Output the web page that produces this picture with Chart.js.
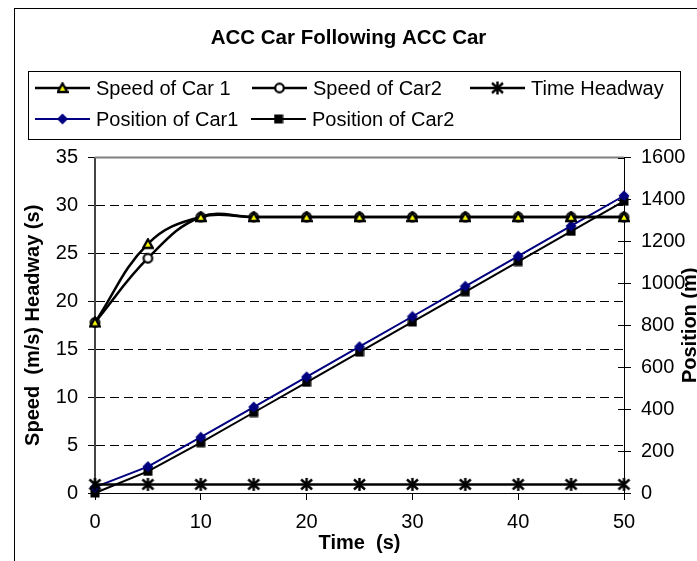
<!DOCTYPE html>
<html>
<head>
<meta charset="utf-8">
<title>ACC Car Following ACC Car</title>
<script src="https://cdn.jsdelivr.net/npm/chart.js@4.4.1/dist/chart.umd.min.js"></script>
<style>
  html, body { margin: 0; padding: 0; background: #fff; overflow: hidden; }
  #wrap { position: relative; width: 697px; height: 561px; }
</style>
</head>
<body>
<div id="wrap"><canvas id="chart" width="697" height="561"></canvas></div>
<script>
/* data */
const timeSec = [0, 5, 10, 15, 20, 25, 30, 35, 40, 45, 50];
const speedCar1 = [17.8, 26.0, 28.8, 28.8, 28.8, 28.8, 28.8, 28.8, 28.8, 28.8, 28.8];
const speedCar2 = [17.8, 24.5, 28.8, 28.8, 28.8, 28.8, 28.8, 28.8, 28.8, 28.8, 28.8];
const timeHeadway = [0.9, 0.9, 0.9, 0.9, 0.9, 0.9, 0.9, 0.9, 0.9, 0.9, 0.9];
const positionCar1 = [28, 126, 266, 410, 554, 698, 842, 986, 1130, 1274, 1418];
const positionCar2 = [0, 103, 240, 384, 528, 672, 816, 960, 1104, 1248, 1392];

const xTicks = [0, 10, 20, 30, 40, 50];
const leftTicks = [0, 5, 10, 15, 20, 25, 30, 35];
const rightTicks = [0, 200, 400, 600, 800, 1000, 1200, 1400, 1600];

const FONT = '"Liberation Sans", Arial, sans-serif';
Chart.defaults.font.family = FONT;
Chart.defaults.font.size = 20;
Chart.defaults.color = '#000';

function pairs(ys) {
  return timeSec.map((t, i) => ({ x: t, y: ys[i] }));
}

// small canvases used as point markers (and again in the legend)
function marker(w, h, draw) {
  const c = document.createElement('canvas');
  c.width = w; c.height = h;
  draw(c.getContext('2d'));
  return c;
}
const triMark = marker(12, 12, g => {
  g.beginPath();
  g.moveTo(6, 1.5); g.lineTo(10.8, 10); g.lineTo(1.2, 10); g.closePath();
  g.fillStyle = '#ffff00'; g.fill();
  g.lineWidth = 2.4; g.strokeStyle = '#000'; g.stroke();
});
const circMark = marker(13, 13, g => {
  g.beginPath(); g.arc(6.5, 6.5, 4.3, 0, Math.PI * 2);
  g.fillStyle = '#fff'; g.fill();
  g.lineWidth = 2.2; g.strokeStyle = '#000'; g.stroke();
});
const starMark = marker(15, 15, g => {
  g.strokeStyle = '#000'; g.lineWidth = 2.4;
  g.beginPath();
  g.moveTo(2, 2.5); g.lineTo(13, 12.5);
  g.moveTo(13, 2.5); g.lineTo(2, 12.5);
  g.moveTo(7.5, 1); g.lineTo(7.5, 14);
  g.stroke();
});
const diamMark = marker(12, 12, g => {
  g.beginPath();
  g.moveTo(6, 0.5); g.lineTo(11.5, 6); g.lineTo(6, 11.5); g.lineTo(0.5, 6); g.closePath();
  g.fillStyle = '#000080'; g.fill();
});
const sqMark = marker(10, 10, g => {
  g.fillStyle = '#000'; g.fillRect(0.5, 0.5, 9, 9);
});

// legend rows: [x, y] of each item's line start
const legendSlots = [[35, 88], [252, 88], [470, 88], [35, 119], [251, 119]];

const frameAndLegend = {
  id: 'frameAndLegend',
  beforeDatasetsDraw(chart) {
    const { ctx, chartArea: a } = chart;
    ctx.save();
    ctx.strokeStyle = '#808080';
    ctx.lineWidth = 2;
    ctx.beginPath();
    ctx.moveTo(a.left, a.top); ctx.lineTo(a.right, a.top);
    ctx.stroke();
    ctx.restore();
  },
  afterDraw(chart) {
    const { ctx, chartArea: a } = chart;
    ctx.save();
    // outer frame
    ctx.strokeStyle = '#000';
    ctx.lineWidth = 1;
    ctx.strokeRect(14.5, 8.5, 900, 900);
    // crossing ticks on the right axis
    const y2 = chart.scales.y2;
    ctx.beginPath();
    y2.ticks.forEach(t => {
      const py = Math.round(y2.getPixelForValue(t.value)) + 0.5;
      ctx.moveTo(a.right - 6, py); ctx.lineTo(a.right, py);
    });
    ctx.stroke();
    // right axis title, reading bottom to top
    ctx.font = 'bold 20px ' + FONT;
    ctx.fillStyle = '#000';
    ctx.textAlign = 'center';
    ctx.textBaseline = 'middle';
    ctx.translate(690, (a.top + a.bottom) / 2);
    ctx.rotate(-Math.PI / 2);
    ctx.fillText('Position (m)', 0, 0);
    ctx.restore();

    // legend
    ctx.save();
    ctx.strokeStyle = '#000';
    ctx.lineWidth = 1;
    ctx.strokeRect(28.5, 71.5, 652, 68);
    ctx.font = '20px ' + FONT;
    ctx.fillStyle = '#000';
    ctx.textAlign = 'left';
    ctx.textBaseline = 'middle';
    chart.data.datasets.forEach((ds, i) => {
      const [x, y] = legendSlots[i];
      ctx.strokeStyle = ds.borderColor;
      ctx.lineWidth = ds.borderWidth;
      ctx.beginPath();
      ctx.moveTo(x, y); ctx.lineTo(x + 55, y);
      ctx.stroke();
      const m = ds.pointStyle;
      ctx.drawImage(m, x + 27.5 - m.width / 2, y - m.height / 2);
      ctx.fillText(ds.label, x + 61, y + 1);
    });
    ctx.restore();
  }
};

new Chart(document.getElementById('chart'), {
  type: 'line',
  data: {
    datasets: [
      { label: 'Speed of Car 1', data: pairs(speedCar1), yAxisID: 'y',
        borderColor: '#000', borderWidth: 2.5, tension: 0.4, pointStyle: triMark, clip: false },
      { label: 'Speed of Car2', data: pairs(speedCar2), yAxisID: 'y',
        borderColor: '#000', borderWidth: 2.5, tension: 0.4, pointStyle: circMark, clip: false },
      { label: 'Time Headway', data: pairs(timeHeadway), yAxisID: 'y',
        borderColor: '#000', borderWidth: 2.5, tension: 0, pointStyle: starMark, clip: false },
      { label: 'Position of Car1', data: pairs(positionCar1), yAxisID: 'y2',
        borderColor: '#000080', borderWidth: 2, tension: 0, pointStyle: diamMark, clip: false },
      { label: 'Position of Car2', data: pairs(positionCar2), yAxisID: 'y2',
        borderColor: '#000', borderWidth: 2, tension: 0, pointStyle: sqMark, clip: false }
    ]
  },
  options: {
    responsive: false,
    animation: false,
    events: [],
    layout: { padding: 0 },
    plugins: {
      legend: { display: false },
      tooltip: { enabled: false },
      title: {
        display: true,
        text: 'ACC Car Following ACC Car',
        color: '#000',
        font: { size: 20.5, weight: 'bold' },
        padding: { top: 26, bottom: 107 }
      }
    },
    scales: {
      x: {
        type: 'linear', min: 0, max: 50,
        afterBuildTicks: s => { s.ticks = xTicks.map(v => ({ value: v })); },
        afterFit: s => { s.height = 68; },
        ticks: { padding: 10, color: '#000', callback: v => String(v) },
        grid: { drawOnChartArea: false, tickLength: 7, tickColor: '#000' },
        border: { color: '#000', width: 1 },
        title: { display: true, text: 'Time  (s)', color: '#000',
                 font: { size: 20, weight: 'bold' }, padding: { top: 0, bottom: 6 } }
      },
      y: {
        position: 'left', min: 0, max: 35,
        afterBuildTicks: s => { s.ticks = leftTicks.map(v => ({ value: v })); },
        afterFit: s => { s.width = 95; },
        ticks: { padding: 10, color: '#000', callback: v => String(v) },
        grid: {
          color: c => (c.tick && (c.tick.value === 0 || c.tick.value === 35)) ? 'rgba(0,0,0,0)' : '#000',
          lineWidth: 1, tickLength: 7, tickColor: '#000'
        },
        border: { color: '#444', width: 2, dash: [9, 5] },
        title: { display: true, text: 'Speed  (m/s) Headway (s)', color: '#000',
                 font: { size: 20, weight: 'bold' }, padding: { top: 21, bottom: 0 } }
      },
      y2: {
        position: 'right', min: 0, max: 1600,
        afterBuildTicks: s => { s.ticks = rightTicks.map(v => ({ value: v })); },
        afterFit: s => { s.width = 73; },
        ticks: { padding: 10, color: '#000', callback: v => String(v) },
        grid: { drawOnChartArea: false, tickLength: 7, tickColor: '#000' },
        border: { color: '#000', width: 1 },
        title: { display: false }
      }
    }
  },
  plugins: [frameAndLegend]
});
</script>
</body>
</html>
